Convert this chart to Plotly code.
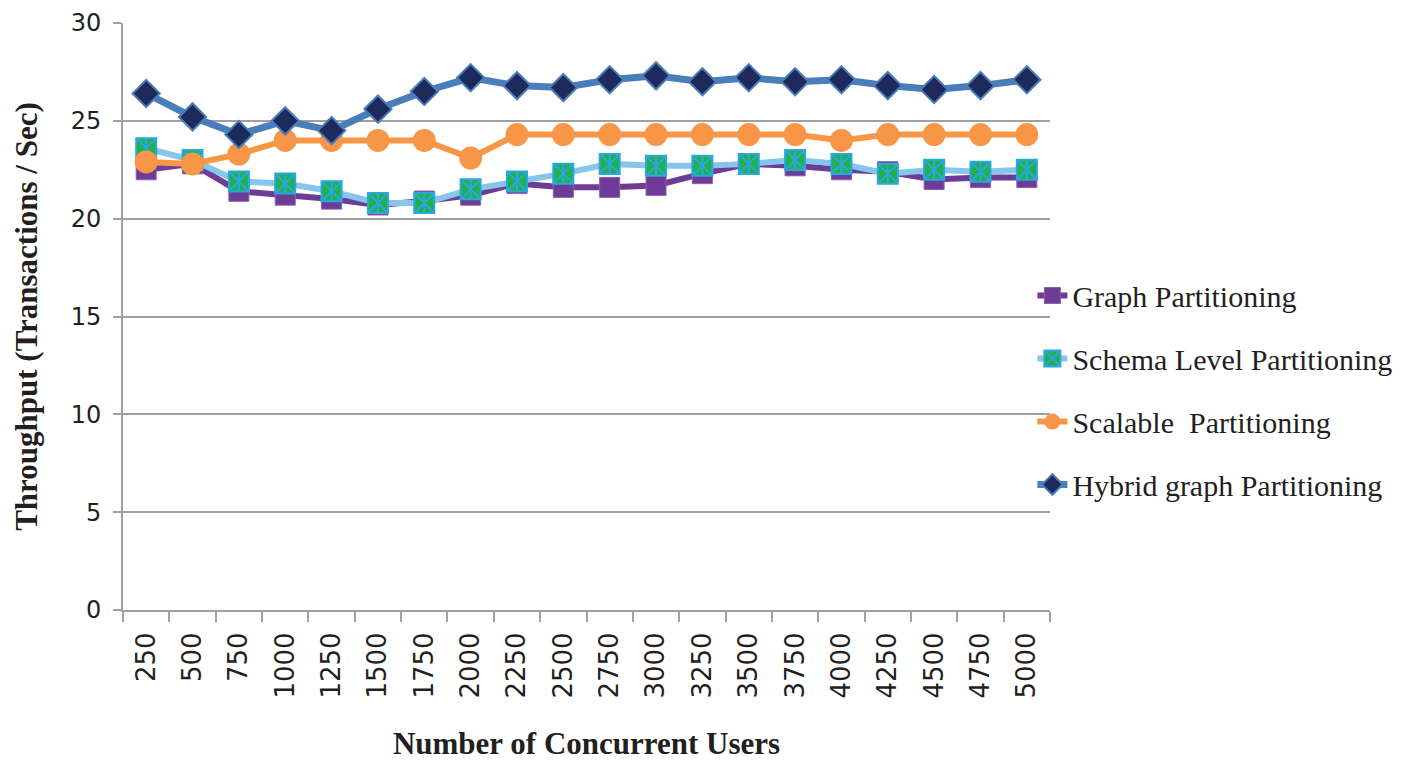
import plotly.graph_objects as go

users = ["250", "500", "750", "1000", "1250", "1500", "1750", "2000", "2250", "2500",
         "2750", "3000", "3250", "3500", "3750", "4000", "4250", "4500", "4750", "5000"]

graph_part = [22.5, 22.8, 21.4, 21.2, 21.0, 20.7, 20.9, 21.2, 21.8, 21.6,
              21.6, 21.7, 22.3, 22.8, 22.7, 22.5, 22.4, 22.0, 22.1, 22.1]
schema_part = [23.6, 23.0, 21.9, 21.8, 21.4, 20.8, 20.8, 21.5, 21.9, 22.3,
               22.8, 22.7, 22.7, 22.8, 23.0, 22.8, 22.3, 22.5, 22.4, 22.5]
scalable_part = [22.9, 22.8, 23.3, 24.0, 24.0, 24.0, 24.0, 23.1, 24.3, 24.3,
                 24.3, 24.3, 24.3, 24.3, 24.3, 24.0, 24.3, 24.3, 24.3, 24.3]
hybrid_part = [26.4, 25.2, 24.3, 25.0, 24.5, 25.6, 26.5, 27.2, 26.8, 26.7,
               27.1, 27.3, 27.0, 27.2, 27.0, 27.1, 26.8, 26.6, 26.8, 27.1]

y_ticks = [0, 5, 10, 15, 20, 25, 30]

fig = go.Figure()

fig.add_trace(go.Scatter(
    x=users, y=graph_part, name="Graph Partitioning", mode="lines+markers",
    legendgroup="g1",
    line=dict(color="#6E3B97", width=6),
    marker=dict(symbol="square", size=20, color="#6E3B97",
                line=dict(color="#8A5DB0", width=1)),
))
fig.add_trace(go.Scatter(
    x=users, y=schema_part, name="Schema Level Partitioning", mode="lines+markers",
    legendgroup="g2",
    line=dict(color="#86C5EC", width=6),
    marker=dict(symbol="square-x", size=20, color="#22B04B",
                line=dict(color="#29A8E0", width=2)),
))
fig.add_trace(go.Scatter(
    x=users, y=schema_part, mode="markers", showlegend=False,
    legendgroup="g2", hoverinfo="skip",
    marker=dict(symbol="line-ns", size=14, color="#29A8E0",
                line=dict(color="#29A8E0", width=2)),
))
fig.add_trace(go.Scatter(
    x=users, y=scalable_part, name="Scalable  Partitioning", mode="lines+markers",
    legendgroup="g3",
    line=dict(color="#F79646", width=6),
    marker=dict(symbol="circle", size=23, color="#F79646",
                line=dict(color="#F79646", width=0)),
))
fig.add_trace(go.Scatter(
    x=users, y=hybrid_part, name="Hybrid graph Partitioning", mode="lines+markers",
    legendgroup="g4",
    line=dict(color="#4A7EBB", width=7),
    marker=dict(symbol="diamond", size=21, color="#1F2A5C",
                line=dict(color="#4A7EBB", width=2)),
))

fig.update_layout(
    width=1395, height=754,
    margin=dict(l=115, r=353, t=15, b=152, autoexpand=False),
    paper_bgcolor="white", plot_bgcolor="white",
    legend=dict(
        x=0.981, xanchor="left", y=0.58, yanchor="top",
        font=dict(family="Liberation Serif", size=30, color="#231F20"),
        tracegroupgap=21, bgcolor="rgba(0,0,0,0)",
    ),
    xaxis=dict(
        type="category", tickson="boundaries", automargin=False,
        showgrid=False, showline=True, linecolor="#A0A0A0", linewidth=2,
        ticks="outside", ticklen=10, tickwidth=2, tickcolor="#A0A0A0",
        tickangle=-90, ticklabelstandoff=10,
        tickfont=dict(family="DejaVu Sans", size=26, color="#231F20"),
        title=dict(text="<b>Number of Concurrent Users</b>",
                   font=dict(family="Liberation Serif", size=31, color="#231F20"),
                   standoff=35),
        range=[-0.5, 19.5],
    ),
    yaxis=dict(
        range=[0, 30], tickvals=y_ticks, automargin=False,
        showgrid=True, gridcolor="#A0A0A0", gridwidth=2,
        showline=True, linecolor="#A0A0A0", linewidth=2,
        ticks="outside", ticklen=8, tickwidth=2, tickcolor="#A0A0A0",
        tickfont=dict(family="DejaVu Sans", size=24, color="#231F20"),
        ticklabelstandoff=7, ticklabeloverflow="allow",
        zeroline=False,
        title=dict(text="<b>Throughput (Transactions / Sec)</b>",
                   font=dict(family="Liberation Serif", size=31, color="#231F20"),
                   standoff=24),
    ),
)

fig.write_html("out.html")
